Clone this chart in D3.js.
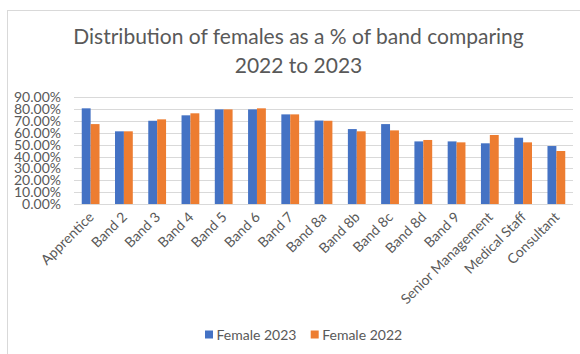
<!DOCTYPE html>
<html><head><meta charset="utf-8">
<script src="https://cdn.jsdelivr.net/npm/d3@7"></script>
<style>body{margin:0;background:#fff}svg{display:block}text{font-family:Lato,"Open Sans",sans-serif}</style>
</head><body>
<svg id="c" width="580" height="354"></svg>
<script>
const categories = ["Apprentice","Band 2","Band 3","Band 4","Band 5","Band 6","Band 7","Band 8a","Band 8b","Band 8c","Band 8d","Band 9","Senior Management","Medical Staff","Consultant"];
const female2023 = [80.7,61.3,70.2,74.8,79.8,79.8,75.6,70.4,63.2,67.4,52.8,52.8,51.2,55.9,48.9];
const female2022 = [67.4,61.3,71.4,76.5,79.8,80.7,75.6,70.2,61.3,62.1,54.0,52.0,58.2,52.0,44.7];
const seriesNames = ["Female 2023","Female 2022"];
const colors = ["#4472C4","#ED7D31"];
const yTicks = [0,10,20,30,40,50,60,70,80,90];
const titleLines = ["Distribution of females as a % of band comparing","2022 to 2023"];

const svg = d3.select("#c");
svg.append("rect").attr("x",7.5).attr("y",10.5).attr("width",600).attr("height",400)
  .attr("fill","#fff").attr("stroke","#d9d9d9");

const m = {l:74, r:573, t:97.3, b:204};
const x = d3.scaleBand().domain(categories).range([m.l,m.r]).paddingInner(0).paddingOuter(0);
const y = d3.scaleLinear().domain([0,90]).range([m.b,m.t]);
const inner = d3.scaleBand().domain(seriesNames).range([0,x.bandwidth()]).paddingInner(0).paddingOuter(0.87);

// gridlines
svg.append("g").selectAll("line").data(yTicks).join("line")
  .attr("x1",m.l).attr("x2",m.r).attr("y1",d=>Math.round(y(d))+0.5).attr("y2",d=>Math.round(y(d))+0.5)
  .attr("stroke","#d9d9d9").attr("stroke-width",1);

// y axis labels
const yAxis = d3.axisLeft(y).tickValues(yTicks).tickSize(0).tickPadding(0).tickFormat(d=>d.toFixed(2)+"%");
const ya = svg.append("g").attr("transform",`translate(61,0)`).call(yAxis);
ya.select(".domain").remove();
ya.selectAll("text").attr("fill","#595959").style("font-size","14px").style("font-family","Lato");

// bars
const data = [female2023, female2022];
const g = svg.append("g");
categories.forEach((c,i)=>{
  seriesNames.forEach((s,j)=>{
    g.append("rect").attr("x",x(c)+inner(s)).attr("width",inner.bandwidth())
      .attr("y",y(data[j][i])).attr("height",y(0)-y(data[j][i])).attr("fill",colors[j]);
  });
});

// x labels
const xa = svg.append("g").attr("transform",`translate(0,${m.b})`)
  .call(d3.axisBottom(x).tickSize(0).tickPadding(0));
xa.select(".domain").remove();
xa.selectAll("text").attr("fill","#595959").style("font-size","14px").style("font-family","Lato")
  .attr("text-anchor","end").attr("dy",null).attr("y",0)
  .attr("transform","translate(4,14) rotate(-45)");

// title
svg.append("text").attr("x",298.5).attr("y",44).attr("text-anchor","middle")
  .attr("fill","#595959").style("font-size","21px").text(titleLines[0]);
svg.append("text").attr("x",298.5).attr("y",72.5).attr("text-anchor","middle")
  .attr("fill","#595959").style("font-size","21px").text(titleLines[1]);

// legend
const lg = svg.append("g");
const lx = [205, 310.7];
seriesNames.forEach((s,j)=>{
  lg.append("rect").attr("x",lx[j]).attr("y",330.5).attr("width",8).attr("height",8).attr("fill",colors[j]);
  lg.append("text").attr("x",lx[j]+11.5).attr("y",339.5).attr("fill","#595959").style("font-size","14px").text(s);
});
</script>
</body></html>
